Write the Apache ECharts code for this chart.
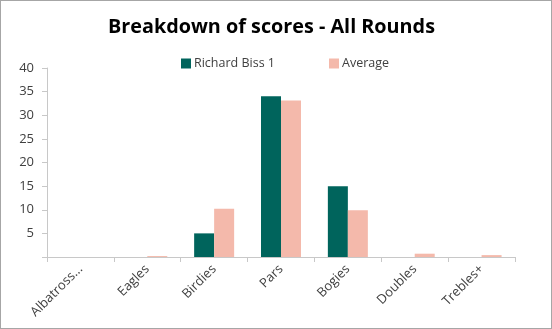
<!DOCTYPE html>
<html>
<head>
<meta charset="utf-8">
<script src="https://cdn.jsdelivr.net/npm/echarts@6/dist/echarts.min.js"></script>
<style>
html,body{margin:0;padding:0;background:#fff;}
#frame{position:absolute;left:0;top:0;width:550px;height:327px;border:1px solid #a6a6a6;}
#c{width:550px;height:327px;}
</style>
</head>
<body>
<div id="frame"><div id="c"></div></div>
<script>
var categories = ['Albatross...', 'Eagles', 'Birdies', 'Pars', 'Bogies', 'Doubles', 'Trebles+'];
var playerName = 'Richard Biss 1';
var playerValues = [0, 0, 5, 34, 15, 0, 0];
var averageValues = [0, 0.2, 10.2, 33.1, 9.9, 0.7, 0.4];
var yTicks = [0, 5, 10, 15, 20, 25, 30, 35, 40];

var font = '"Open Sans", "Noto Sans", sans-serif';
var chart = echarts.init(document.getElementById('c'));
chart.setOption({
  animation: false,
  textStyle: {fontFamily: font},
  title: {
    text: 'Breakdown of scores - All Rounds',
    left: 102, top: 11,
    textStyle: {fontFamily: font, fontSize: 19.8, fontWeight: 'bold', color: '#000'}
  },
  legend: {
    top: 51, left: 175,
    itemWidth: 10, itemHeight: 10, itemGap: 54,
    icon: 'rect',
    textStyle: {fontFamily: font, fontSize: 12.5, color: '#404040', padding: [0, 0, 0, -2]},
    data: [playerName, 'Average']
  },
  grid: {left: 46, right: 36, top: 67, bottom: 71},
  xAxis: {
    type: 'category',
    data: categories,
    axisLine: {lineStyle: {color: '#c8c8c8', width: 1}},
    axisTick: {show: true, alignWithLabel: false, length: 5, lineStyle: {color: '#c8c8c8'}},
    axisLabel: {rotate: 45, color: '#404040', fontSize: 13, fontFamily: font, margin: 10, interval: 0}
  },
  yAxis: {
    type: 'value',
    min: yTicks[0], max: yTicks[yTicks.length - 1], interval: 5,
    axisLine: {show: true, lineStyle: {color: '#c8c8c8'}},
    axisTick: {show: true, length: 5, lineStyle: {color: '#c8c8c8'}},
    splitLine: {show: false},
    axisLabel: {
      color: '#404040', fontSize: 13, fontFamily: font, margin: 13,
      formatter: function (v) { return v === 0 ? '' : String(v); }
    }
  },
  series: [
    {name: playerName, type: 'bar', data: playerValues, barWidth: 20, barGap: '0%',
     itemStyle: {color: '#00645c'}},
    {name: 'Average', type: 'bar', data: averageValues, barWidth: 20,
     itemStyle: {color: '#f4b9ab'}}
  ]
});
</script>
</body>
</html>
